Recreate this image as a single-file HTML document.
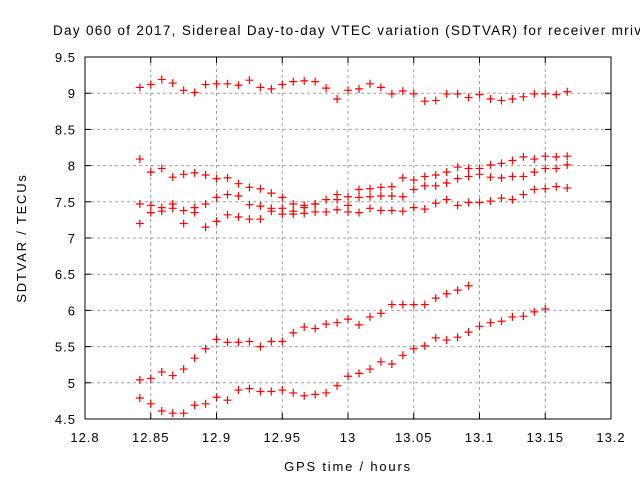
<!DOCTYPE html>
<html><head><meta charset="utf-8"><style>
html,body{margin:0;padding:0;background:#fff;}
svg{display:block;font-family:"Liberation Sans",Arial,sans-serif;}
</style></head><body>
<svg id="chart" width="640" height="480" xmlns="http://www.w3.org/2000/svg">
<rect width="640" height="480" fill="#fff"/>
<text x="53" y="35" font-size="13.5" fill="#000" textLength="588" lengthAdjust="spacing">Day 060 of 2017, Sidereal Day-to-day VTEC variation (SDTVAR) for receiver mriv</text>
<g id="grid"></g>
<g id="axes"></g>
<g id="marks"></g>
<text x="348" y="471" font-size="13" letter-spacing="1.8" text-anchor="middle">GPS time / hours</text>
<text x="0" y="0" font-size="13" letter-spacing="1.8" text-anchor="middle" transform="translate(26,238) rotate(-90)">SDTVAR / TECUs</text>
</svg>
<script>
const xTicks = [12.8,12.85,12.9,12.95,13,13.05,13.1,13.15,13.2];
const xTickLabels = ["12.8","12.85","12.9","12.95","13","13.05","13.1","13.15","13.2"];
const yTicks = [4.5,5,5.5,6,6.5,7,7.5,8,8.5,9,9.5];
const yTickLabels = ["4.5","5","5.5","6","6.5","7","7.5","8","8.5","9","9.5"];
const tStart = 12.8417;
const tStep = 1/120;
const seriesA = [9.08,9.12,9.19,9.14,9.04,9.01,9.12,9.13,9.13,9.11,9.18,9.08,9.06,9.12,9.16,9.17,9.16,9.07,8.92,9.04,9.06,9.13,9.08,8.99,9.03,8.99,8.89,8.90,8.99,8.99,8.94,8.98,8.92,8.90,8.92,8.95,8.99,8.99,8.98,9.02];
const seriesB = [8.09,7.91,7.96,7.84,7.88,7.90,7.87,7.82,7.83,7.75,7.70,7.68,7.62,7.56,7.47,7.45,7.47,7.53,7.60,7.57,7.67,7.68,7.70,7.71,7.83,7.80,7.85,7.87,7.91,7.98,7.96,7.96,8.01,8.03,8.07,8.12,8.09,8.13,8.12,8.13];
const seriesC = [7.47,7.45,7.42,7.47,7.38,7.42,7.47,7.56,7.60,7.58,7.46,7.44,7.41,7.41,7.37,7.42,7.47,null,7.53,7.45,7.56,7.57,7.58,7.58,7.57,7.67,7.72,7.72,7.76,7.82,7.85,7.88,7.84,7.83,7.85,7.85,7.91,7.96,7.96,8.01];
const seriesD = [7.20,7.35,7.37,7.41,7.20,7.35,7.15,7.23,7.32,7.29,7.26,7.26,7.37,7.33,7.33,7.34,7.36,7.36,7.39,7.36,7.35,7.41,7.38,7.38,7.37,7.42,7.40,7.48,7.53,7.45,7.49,7.49,7.51,7.55,7.53,7.60,7.67,7.68,7.71,7.69];
const seriesE = [5.04,5.06,5.15,5.10,5.19,5.34,5.47,5.60,5.56,5.56,5.57,5.50,5.57,5.57,5.69,5.77,5.75,5.81,5.83,5.88,5.80,5.91,5.96,6.08,6.08,6.08,6.08,6.17,6.23,6.28,6.34,null,null,null,null,null,null,null,null,null];
const seriesF = [4.79,4.71,4.61,4.58,4.58,4.69,4.71,4.80,4.76,4.90,4.92,4.88,4.88,4.90,4.86,4.82,4.84,4.86,4.96,5.09,5.13,5.19,5.29,5.26,5.38,5.47,5.51,5.62,5.59,5.63,5.70,5.78,5.83,5.85,5.91,5.92,5.98,6.02,null,null];

const L=85,R=611,T=57,B=419;
const xMin=12.8,xMax=13.2,yMin=4.5,yMax=9.5;
function xs(v){return L+(v-xMin)/(xMax-xMin)*(R-L);}
function ys(v){return B-(v-yMin)/(yMax-yMin)*(B-T);}
const NS="http://www.w3.org/2000/svg";
function mk(tag,attrs,parent){const e=document.createElementNS(NS,tag);for(const k in attrs)e.setAttribute(k,attrs[k]);parent.appendChild(e);return e;}
const grid=document.getElementById('grid'),axes=document.getElementById('axes'),marks=document.getElementById('marks');
xTicks.forEach((v,i)=>{
  const x=xs(v);
  if(i>0&&i<xTicks.length-1){
    const g=mk('line',{x1:x,x2:x,y1:T,y2:B,stroke:'#a0a0a0','stroke-dasharray':'3,3','stroke-width':1},grid);
    
    
  }
  const t1=mk('line',{x1:x,x2:x,y1:B,y2:B-6,stroke:'#000'},axes);
  
  
  const t2=mk('line',{x1:x,x2:x,y1:T,y2:T+6,stroke:'#000'},axes);
  
  
  const lb=mk('text',{x:x,y:442,'font-size':13,'letter-spacing':1,'text-anchor':'middle'},axes);
  lb.textContent=xTickLabels[i];
  
  
});
yTicks.forEach((v,i)=>{
  const y=ys(v);
  if(i>0&&i<yTicks.length-1){
    const g=mk('line',{x1:L,x2:R,y1:y,y2:y,stroke:'#a0a0a0','stroke-dasharray':'3,3','stroke-width':1},grid);
    
    
  }
  const t1=mk('line',{x1:L,x2:L+6,y1:y,y2:y,stroke:'#000'},axes);
  
  
  const t2=mk('line',{x1:R,x2:R-6,y1:y,y2:y,stroke:'#000'},axes);
  
  
  const lb=mk('text',{x:L-9,y:y+5,'font-size':13,'letter-spacing':1,'text-anchor':'end'},axes);
  lb.textContent=yTickLabels[i];
  
  
});
const frame=mk('rect',{x:L,y:T,width:R-L,height:B-T,fill:'none',stroke:'#000','stroke-width':1},axes);


const allSeries=[seriesA,seriesB,seriesC,seriesD,seriesE,seriesF];
allSeries.forEach((s,si)=>{
  s.forEach((v,i)=>{
    if(v===null)return;
    const x=xs(tStart+i*tStep),y=ys(v);
    const p=mk('path',{d:`M${x-4},${y}H${x+4}M${x},${y-4}V${y+4}`,stroke:'#f00','stroke-width':1.2,fill:'none'},marks);
    
    
  });
});
</script>
</body></html>
